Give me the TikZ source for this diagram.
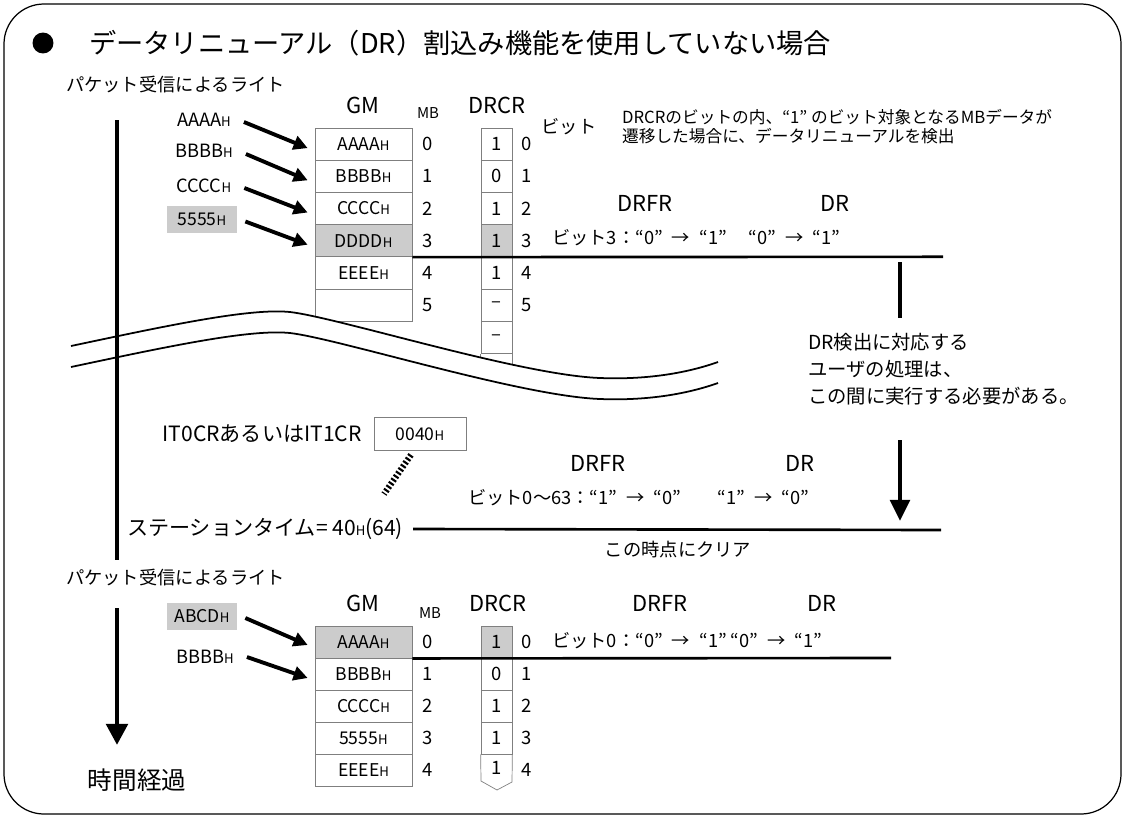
\documentclass[tikz,border=0pt]{standalone}
\usepackage{fontspec}
\setmainfont{Noto Sans CJK JP}
\usetikzlibrary{arrows.meta,positioning}
\definecolor{CellGray}{HTML}{CCCCCC}
\definecolor{CellLine}{HTML}{7F7F7F}
\newcommand{\hx}{{\fontsize{7.5}{8}\selectfont H}}
\newcommand{\toarr}{\enspace→\enspace}

\begin{document}
\begin{tikzpicture}[x=0.02cm,y=-0.02cm,font=\fontsize{10.4}{12.5}\selectfont,
  every node/.style={inner sep=1pt},
  gmcell/.style={draw=CellLine,minimum width=1.94cm,minimum height=0.644cm,inner sep=0pt,font=\fontsize{10}{12}\selectfont},
  bitcell/.style={draw=CellLine,minimum width=0.62cm,minimum height=0.644cm,inner sep=0pt,font=\fontsize{10.5}{12}\selectfont},
  hotbox/.style={fill=CellGray,inner sep=0pt,minimum width=1.4cm,minimum height=0.54cm,font=\fontsize{10}{12}\selectfont},
  hdr/.style={font=\fontsize{12.5}{14}\selectfont},
  mbhdr/.style={font=\fontsize{8.5}{10}\selectfont},
  num/.style={font=\fontsize{10.5}{12}\selectfont},
  bigtxt/.style={font=\fontsize{12}{14}\selectfont},
  wrarrow/.style={line width=2.2pt,-{Triangle[length=8pt,width=8pt]}},
  timebar/.style={line width=2.8pt},
  edge/.style={line width=1.5pt}]
\useasboundingbox (0,0) rectangle (1125,818);
\draw[rounded corners=0.8cm,line width=0.7pt] (4,4) rectangle (1121,814);

% title
\node[circle,fill,inner sep=0pt,minimum size=0.42cm] (bullet) at (43,43) {};
\node[anchor=west,font=\fontsize{15.5}{18}\selectfont] (title) at (87,43) {データリニューアル（DR）割込み機能を使用していない場合};

% first write
\node[anchor=west] (pktA) at (64,85) {パケット受信によるライト};
\coordinate (barA1) at (117,120);
\coordinate (barA2) at (117,560);

\node (inA) at (204,120) {AAAA\hx};
\node (inB) at (204,151) {BBBB\hx};
\node (inC) at (204,186) {CCCC\hx};
\node[hotbox] (inD) at (202,219.5) {5555\hx};

\node[hdr] (gmA) at (363,105) {GM};
\node[mbhdr] (mbA) at (428,113) {MB};
\node[hdr] (drcrA) at (497,105) {DRCR};

\foreach \v/\f [count=\i from 0] in {AAAA\hx/white,BBBB\hx/white,CCCC\hx/white,DDDD\hx/CellGray,EEEE\hx/white,{}/white}
  \node[gmcell,fill=\f] (gmA\i) at (363.5,{144.1+32.2*\i}) {\v};
\foreach \v/\f [count=\i from 0] in {1/white,0/white,1/white,1/CellGray,1/white,–/white,–/white}
  \node[bitcell,fill=\f] (bitvA\i) at (496.5,{144.1+32.2*\i}) {\v};
\draw[CellLine] (bitvA6.south west) -- ++(0,20) (bitvA6.south east) -- ++(0,20);
\foreach \i in {0,...,5}{
  \node[num] (mbA\i) at (428,{144.1+32.2*\i}) {\i};
  \node[num] (bitA\i) at (527,{144.1+32.2*\i}) {\i};
}

\draw[wrarrow] ([xshift=0.22cm,yshift=-0.04cm]inA.east) -- ([xshift=-0.14cm,yshift=-0.08cm]gmA0.west);
\draw[wrarrow] ([xshift=0.22cm,yshift=-0.06cm]inB.east) -- ([xshift=-0.14cm,yshift=-0.08cm]gmA1.west);
\draw[wrarrow] ([xshift=0.22cm,yshift=-0.04cm]inC.east) -- ([xshift=-0.14cm,yshift=-0.08cm]gmA2.west);
\draw[wrarrow] ([xshift=0.16cm,yshift=-0.04cm]inD.east) -- ([xshift=-0.14cm,yshift=-0.08cm]gmA3.west);

\node (bitword) at (569,127) {ビット};
\node[anchor=west,align=left,font=\fontsize{9.5}{10.8}\selectfont] (desc) at (620,127) {DRCRのビットの内、“1” のビット対象となるMBデータが\\遷移した場合に、データリニューアルを検出};

\node[hdr] (drfrA) at (645,203) {DRFR};
\node[hdr] (drA) at (835,203) {DR};
\node[anchor=west] (chgA) at (550,238) {ビット3：“0”\toarr“1”\hspace{1.2em}“0”\toarr“1”};
\coordinate (lineAend) at (943,256.8);
\draw[edge] (gmA3.south east) -- (lineAend);

\coordinate (waitA) at (900,262);
\coordinate (waitB) at (900,318);
\draw[line width=2.5pt] (waitA) -- (waitB);
\node[anchor=north west,align=left,font=\fontsize{11}{15.5}\selectfont] (note) at (806,331) {DR検出に対応する\\ユーザの処理は、\\この間に実行する必要がある。};
\coordinate (waitC) at (900,440);
\coordinate (waitD) at (900,521);
\draw[line width=2.5pt,-{Triangle[length=12pt,width=11pt]}] (waitC) -- (waitD);

% break
\fill[white] (71,346) .. controls (170,325) and (250,308) .. (290,312) .. controls (340,318) and (520,375) .. (600,378) .. controls (650,380) and (690,372) .. (718,362)
  -- (718,383) .. controls (690,393) and (650,401) .. (600,399) .. controls (520,396) and (340,339) .. (290,333) .. controls (250,329) and (170,346) .. (71,367) -- cycle;
\draw[line width=1pt] (71,346) .. controls (170,325) and (250,308) .. (290,312) .. controls (340,318) and (520,375) .. (600,378) .. controls (650,380) and (690,372) .. (718,362);
\draw[line width=1pt] (71,367) .. controls (170,346) and (250,329) .. (290,333) .. controls (340,339) and (520,396) .. (600,399) .. controls (650,401) and (690,393) .. (718,383);
\draw[timebar] (barA1) -- (barA2);

% station time
\node[gmcell,minimum width=1.84cm,minimum height=0.66cm] (itbox) at (420,434) {0040\hx};
\node[bigtxt,left=0.2cm of itbox] (itreg) {IT0CRあるいはIT1CR};
\node[anchor=west,bigtxt] (sttime) at (125,529) {ステーションタイム= 40\hx(64)};
\coordinate (dotEnd) at (384,494);
\draw[line width=3.5pt,dash pattern=on 1.2pt off 1.2pt] ([xshift=-0.18cm,yshift=-0.08cm]itbox.south) -- (dotEnd);
\node[hdr] (drfrB) at (598,463) {DRFR};
\node[hdr] (drB) at (800,463) {DR};
\node[anchor=west] (chgB) at (466,498) {ビット0〜63：“1”\toarr“0”\hspace{2em}“1”\toarr“0”};
\coordinate (clrEnd) at (941,530);
\draw[edge] ([xshift=0.16cm]sttime.east) -- (clrEnd);
\node (clrnote) at (678,550) {この時点にクリア};

% second write
\node[anchor=west] (pktB) at (64,578) {パケット受信によるライト};
\coordinate (barB1) at (117,608);
\coordinate (barB2) at (117,745);
\draw[timebar,-{Triangle[length=12pt,width=12pt]}] (barB1) -- (barB2);
\node[font=\fontsize{14}{16}\selectfont] (elapsed) at (137,780) {時間経過};

\node[hotbox] (inE) at (202,616) {ABCD\hx};
\node (inF) at (205,657) {BBBB\hx};

\node[hdr] (gmB) at (363,603) {GM};
\node[mbhdr] (mbB) at (430,613) {MB};
\node[hdr] (drcrB) at (498,603) {DRCR};

\foreach \v/\f [count=\i from 0] in {AAAA\hx/CellGray,BBBB\hx/white,CCCC\hx/white,5555\hx/white,EEEE\hx/white}
  \node[gmcell,fill=\f] (gmB\i) at (363.5,{642+32*\i}) {\v};
\foreach \v/\f [count=\i from 0] in {1/CellGray,0/white,1/white,1/white}
  \node[bitcell,fill=\f,minimum height=0.64cm] (bitvB\i) at (496.5,{642+32*\i}) {\v};
\node[num] (bitvB4) at (496.5,768) {1};
\draw[CellLine] (bitvB3.south west) -- (481,781) -- (497,790) -- (512,782) -- (bitvB3.south east);
\foreach \i in {0,...,4}{
  \node[num] (mbB\i) at (428,{642+32*\i}) {\i};
  \node[num] (bitB\i) at (527,{642+32*\i}) {\i};
}

\draw[wrarrow] ([xshift=0.16cm,yshift=-0.04cm]inE.east) -- ([xshift=-0.14cm,yshift=-0.06cm]gmB0.west);
\draw[wrarrow] ([xshift=0.22cm]inF.east) -- ([xshift=-0.14cm,yshift=-0.08cm]gmB1.west);

\node[hdr] (drfrC) at (660,603) {DRFR};
\node[hdr] (drC) at (822,603) {DR};
\node[anchor=west] (chgC) at (550,641) {ビット0：“0”\toarr“1” “0”\toarr“1”};
\coordinate (lineCend) at (891,658);
\draw[edge] (gmB0.south east) -- (lineCend);
\end{tikzpicture}
\end{document}
